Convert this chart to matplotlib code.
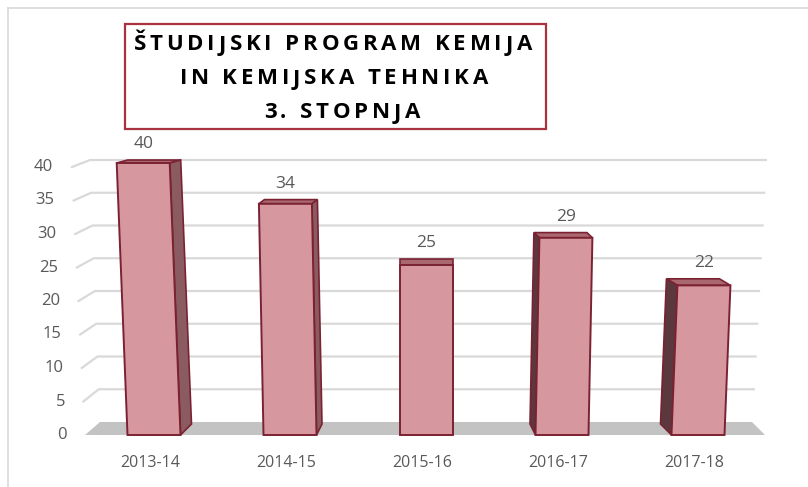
import matplotlib
matplotlib.use('Agg')
import matplotlib.pyplot as plt
from matplotlib.patches import Polygon, Rectangle
from matplotlib.lines import Line2D
from matplotlib.font_manager import FontProperties, findfont, get_font

plt.rcParams['font.family'] = ['Open Sans', 'DejaVu Sans']

title_lines = ['ŠTUDIJSKI PROGRAM KEMIJA', 'IN KEMIJSKA TEHNIKA', '3. STOPNJA']
years = ['2013-14', '2014-15', '2015-16', '2016-17', '2017-18']
students = [40, 34, 25, 29, 22]
y_ticks = [0, 5, 10, 15, 20, 25, 30, 35, 40]

W, H = 808, 487
fig = plt.figure(figsize=(W / 100, H / 100), dpi=100)
ax = fig.add_axes([0, 0, 1, 1])
ax.axis('off')

# pixel scale of the fake 3D view
X0, XSTEP = 154, 136     # px of first bar centre, px between bars
Y0, YSTEP = 435, 6.8     # px of value 0, px per unit
ax.set_xlim(-X0 / XSTEP, (W - X0) / XSTEP)
ax.set_ylim(-(H - Y0) / YSTEP, Y0 / YSTEP)
px = 1 / XSTEP
py = 1 / YSTEP

front = '#d7979f'
edge = '#7b2232'
grid_col = '#d9d9d9'
txt_col = '#595959'


def back_y(v):
    return (13 + 6.55 * v) * py


# back wall gridlines, bent at the left wall
for v in y_ticks[1:]:
    xs = [(85 - 0.325 * v - X0) * px, (100 - 0.25 * v - X0) * px,
          (752 + 0.35 * v - X0) * px]
    ys = [v * 6.7 / 6.8, back_y(v), back_y(v)]
    ax.plot(xs, ys, color=grid_col, lw=1.6, zorder=1)

# floor
floor = [((85 - X0) * px, 0), ((765 - X0) * px, 0),
         ((752 - X0) * px, back_y(0)), ((100 - X0) * px, back_y(0))]
ax.add_patch(Polygon(floor, closed=True, fc='#c3c3c3', ec='none', zorder=2))

w = 26.5 * px
for i, v in enumerate(students):
    xb = i
    xt = i + 0.135 * (i - 2) * v * px
    ddx = -5.5 * (i - 2) * px
    dy0 = 11 * py
    dyv = (11 - 0.2 * v) * py

    top = [(xt - w, v), (xt + w, v), (xt + w + ddx, v + dyv), (xt - w + ddx, v + dyv)]
    ax.add_patch(Polygon(top, closed=True, fc='#a9676f', ec=edge, lw=1.2, zorder=3))
    if i < 2:
        side = [(xb + w, 0), (xt + w, v), (xt + w + ddx, v + dyv), (xb + w + ddx, dy0)]
        ax.add_patch(Polygon(side, closed=True, fc='#8b5b62', ec=edge, lw=1.2, zorder=3))
    elif i > 2:
        side = [(xb - w, 0), (xt - w, v), (xt - w + ddx, v + dyv), (xb - w + ddx, dy0)]
        ax.add_patch(Polygon(side, closed=True, fc='#5b383d', ec=edge, lw=1.2, zorder=3))
    face = [(xb - w, 0), (xb + w, 0), (xt + w, v), (xt - w, v)]
    ax.add_patch(Polygon(face, closed=True, fc=front, ec=edge, lw=1.4, zorder=4))

    ax.text(xt, v + dyv + 16 * py, str(v), ha='center', va='center',
            fontsize=12.5, color=txt_col, zorder=5)
    ax.text(i - 4 * px, -28 * py, years[i], ha='center', va='center',
            fontsize=11.5, color=txt_col)

for v in y_ticks:
    ax.text((67 - 0.35 * v - X0) * px, v * 6.7 / 6.8, str(v), ha='right',
            va='center', fontsize=12, color=txt_col)

# title box
fig.patches.append(Rectangle((125 / W, 1 - 129 / H), 421 / W, 105 / H,
                             transform=fig.transFigure, fill=False,
                             ec='#a8323f', lw=1.6))

# title with letter spacing, one glyph at a time
tprop = FontProperties(family='Open Sans', weight='bold', size=16)
tfont = get_font(findfont(tprop))
tfont.set_size(16, 100)


def advances(s):
    return [tfont.load_char(ord(c)).linearHoriAdvance / 65536 for c in s]


track = 3.8
for line, (cx, cy) in zip(title_lines, [(333, 45), (334, 79), (342, 113)]):
    adv = advances(line)
    total = sum(adv) + track * (len(line) - 1)
    x = cx - total / 2
    for c, a in zip(line, adv):
        fig.text(x / W, 1 - cy / H, c, ha='left', va='center',
                 fontproperties=tprop, color='black')
        x += a + track

# outer frame lines
fig.add_artist(Line2D([8 / W, 1], [1 - 8 / H, 1 - 8 / H], color='#d9d9d9', lw=1.2))
fig.add_artist(Line2D([8 / W, 8 / W], [0, 1 - 8 / H], color='#d9d9d9', lw=1.2))

fig.savefig('out.png', dpi=100)
